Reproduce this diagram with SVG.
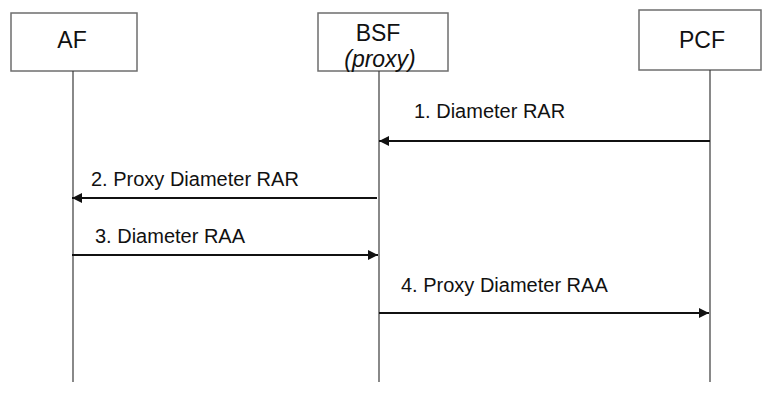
<svg xmlns="http://www.w3.org/2000/svg" width="762" height="394" viewBox="0 0 762 394">
<defs>
<style>
.box{fill:#fff;stroke:#6e6e6e;stroke-width:1.5}
.life{stroke:#3a3a3a;stroke-width:1.2;fill:none}
.msg{stroke:#111;stroke-width:2;fill:none}
.lbl{font-family:"Liberation Sans",Arial,sans-serif;font-size:20px;fill:#111}
.name{font-family:"Liberation Sans",Arial,sans-serif;font-size:23px;fill:#111;text-anchor:middle}
</style>
<marker id="ah" viewBox="0 0 10 10" refX="10" refY="5" markerWidth="5.5" markerHeight="5" orient="auto" markerUnits="strokeWidth">
<path d="M0,0 L10,5 L0,10 z" fill="#111"/>
</marker>
</defs>
<rect width="762" height="394" fill="#fff"/>
<g id="AF">
<rect class="box" x="11" y="13" width="126" height="58"/>
<text class="name" x="72" y="48">AF</text>
</g>
<g id="BSF">
<rect class="box" x="318" y="13" width="130" height="58"/>
<text class="name" x="378" y="41">BSF</text>
<text class="name" x="380" y="67" font-style="italic">(proxy)</text>
</g>
<g id="PCF">
<rect class="box" x="639" y="10" width="122" height="60"/>
<text class="name" x="702" y="48">PCF</text>
</g>
<g id="lifelines">
<line class="life" x1="73" y1="71" x2="73" y2="382"/>
<line class="life" x1="379" y1="71" x2="379" y2="382"/>
<line class="life" x1="710" y1="70" x2="710" y2="382"/>
</g>
<g id="connectors">
<line class="msg" x1="710" y1="141" x2="379" y2="141" marker-end="url(#ah)"/>
<line class="msg" x1="377" y1="198" x2="72" y2="198" marker-end="url(#ah)"/>
<line class="msg" x1="72" y1="255" x2="378" y2="255" marker-end="url(#ah)"/>
<line class="msg" x1="379" y1="313" x2="709" y2="313" marker-end="url(#ah)"/>
<text class="lbl" x="414" y="118">1. Diameter RAR</text>
<text class="lbl" x="91" y="186">2. Proxy Diameter RAR</text>
<text class="lbl" x="95" y="243">3. Diameter RAA</text>
<text class="lbl" x="401" y="292">4. Proxy Diameter RAA</text>
</g>
</svg>
